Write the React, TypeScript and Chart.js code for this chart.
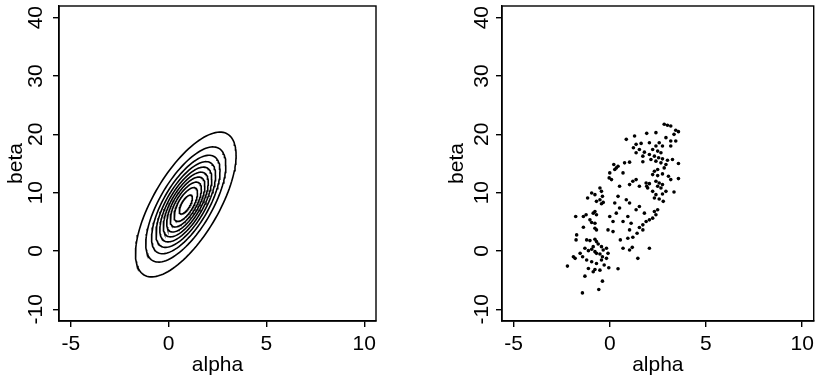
import React, { useEffect, useRef } from "react";
import { Chart, registerables } from "chart.js";
Chart.register(...registerables);

// ---- axes ----
const xTicks = [-5, 0, 5, 10];
const yTicks = [-10, 0, 10, 20, 30, 40];
const xRange = [-5.6, 10.6];
const yRange = [-12, 42];

// ---- left panel: normal approximation contours ----
const modeAlphaBeta = [0.88, 7.97];
const sdAlphaBeta = [1.05, 5.07];
const corrAlphaBeta = 0.68;
const contourLevels = [0.05, 0.15, 0.25, 0.35, 0.45, 0.55, 0.65, 0.75, 0.85, 0.95];

// ---- right panel: posterior draws ----
const drawAlpha = [
  2.83, 3.0, 3.17, 3.43, 3.57, 3.34, 2.4, 1.92, 1.29, 0.86, 2.92, 3.17, 3.43, 1.37, 1.63, 2.06, 2.4, 2.74, 2.57, 1.23,
  1.54, 1.8, 2.23, 2.49, 2.66, 3.17, 1.37, 1.72, 2.06, 2.32, 2.54, 2.74, 3.0, 3.26, 2.14, 2.4, 2.66, 2.92, 3.57, 1.72,
  2.49, 2.32, 2.83, 2.23, 2.49, 2.74, 3.05, 3.57, 2.4, 2.57, 2.74, 2.49, 2.66, 2.92, 2.23, 2.4, 2.74, 2.06, 1.92, 2.32,
  2.57, 3.34, 3.17, 2.78,
  0.21, 0.43, 0.77, 1.03, 0.0, 0.26, -0.03, 0.09, -0.51, -0.43, -0.38, -0.51, -0.94, -0.77, -0.34, -0.43, -0.69, -1.15,
  -1.37, -1.23, -0.86, -0.77, -0.69, -1.03, -0.94, -0.77, -1.77, -1.37, -0.77, -0.69, -1.72, -1.75, -1.2, -1.03, -0.77,
  -0.69, -0.6, -0.43, -0.34, -0.86, -0.94, -0.77, -0.69, -0.51, -0.38, -1.29, -1.11, -0.17, -0.09, -0.17, -1.54, -1.41,
  -1.89, -1.8, -1.2, -0.94, -0.69, -0.43, -0.29, -1.11, -0.77, -0.51, -1.29, -0.86, -0.05, 0.43, -2.2, -0.38, -0.57, -1.42,
  0.55, 0.69, 1.03, 1.17, 1.46, 2.06, 0.94, 1.2, 1.42, 1.54, 1.72, 1.89, 2.06, 2.23, 2.4, 2.32, 2.49, 1.72, 1.03, 1.11,
  0.69, 0.94, 0.34, 0.51, 0.26, 0.43, 1.03, 1.2, 1.37, 1.54, 1.89, 1.97, 0.86, 1.03, 1.37, 1.54, 1.8, 0.0, 0.17, -0.09,
  0.17, 0.34, 0.69, 0.51,
];
const drawBeta = [
  21.72, 21.55, 21.44, 20.69, 20.46, 20.0, 20.29, 20.17, 19.71, 19.14, 19.43, 18.85, 18.85, 18.28, 18.45, 18.56, 17.99,
  17.99, 18.56, 17.7, 17.41, 16.95, 17.41, 17.13, 16.84, 17.99, 16.84, 16.26, 16.55, 16.26, 15.98, 15.8, 15.57, 15.69,
  15.69, 15.4, 15.11, 14.83, 15.0, 15.29, 13.97, 13.68, 14.25, 13.1, 12.93, 13.22, 12.82, 12.41, 11.95, 11.67, 11.38,
  11.09, 10.8, 10.23, 10.23, 9.66, 9.77, 11.55, 11.09, 9.08, 8.91, 10.11, 12.24, 8.51,
  14.83, 14.54, 15.11, 15.23, 13.39, 13.97, 12.53, 12.24, 10.8, 10.23, 9.37, 8.79, 9.94, 9.66, 8.33, 8.1, 8.51, 9.08,
  5.92, 6.21, 6.49, 6.78, 6.21, 5.34, 4.89, 4.77, 5.92, 4.08, 3.91, 3.62, 2.76, 1.9, 1.9, 1.78, 2.01, 1.61, 1.21, 0.75,
  0.17, 0.75, 0.29, -0.11, -0.4, -0.52, -0.98, 0.46, 0.06, 0.46, -0.4, -1.26, -0.4, -0.98, -0.98, -1.26, -1.55, -1.84,
  -2.13, -1.55, -2.41, -2.99, -3.16, -3.28, -4.31, -3.56, -2.87, -3.05, -2.59, -5.17, -6.61, -7.18,
  1.9, 0.46, 0.17, 0.63, -1.26, 0.46, 2.18, 2.36, 3.05, 4.02, 4.48, 5.06, 5.34, 5.63, 6.21, 6.78, 7.07, 3.62, 3.62, 4.77,
  5.06, 5.92, 6.49, 7.36, 8.22, 9.37, 11.38, 11.95, 12.24, 11.09, 11.67, 10.8, 8.79, 8.22, 7.07, 7.64, 6.49, 5.92, 5.06,
  3.62, 3.33, 14.25, 13.39, 11.09,
];

const FONT = "'Liberation Sans', Arial, Helvetica, sans-serif";
const FSIZE = 21;

function contourPath(level: number) {
  const d = Math.sqrt(-2 * Math.log(level));
  const pts: { x: number; y: number }[] = [];
  const n = 120;
  for (let i = 0; i <= n; i++) {
    const t = (2 * Math.PI * i) / n;
    const c = Math.cos(t);
    const s = Math.sin(t);
    pts.push({
      x: modeAlphaBeta[0] + d * sdAlphaBeta[0] * c,
      y: modeAlphaBeta[1] + d * sdAlphaBeta[1] * (corrAlphaBeta * c + Math.sqrt(1 - corrAlphaBeta ** 2) * s),
    });
  }
  return pts;
}

type Layout = { axisW: number; padRight: number; tickOff: number; titlePad: number };

function makeFramePlugin(lay: Layout) {
  return {
    id: "frame",
    afterDraw(chart: any) {
      const { ctx, chartArea: a, scales } = chart;
      ctx.save();
      ctx.strokeStyle = "#000";
      ctx.lineWidth = 1.4;
      ctx.strokeRect(a.left, a.top, a.right - a.left, a.bottom - a.top);
      ctx.fillStyle = "#000";
      ctx.font = `${FSIZE}px ${FONT}`;
      ctx.textAlign = "center";
      ctx.textBaseline = "middle";
      for (const t of scales.y.ticks) {
        const y = scales.y.getPixelForValue(t.value);
        ctx.save();
        ctx.translate(a.left - lay.tickOff, y);
        ctx.rotate(-Math.PI / 2);
        ctx.fillText(String(t.value), 0, 0);
        ctx.restore();
      }
      ctx.restore();
    },
  };
}

function makeOptions(lay: Layout): any {
  const gridOpts = {
    drawOnChartArea: false,
    drawTicks: true,
    tickLength: 6,
    color: "#000",
    lineWidth: 1.4,
  };
  return {
    responsive: false,
    animation: false,
    events: [],
    layout: { padding: { top: 6, right: lay.padRight, left: 0, bottom: 0 } },
    plugins: { legend: { display: false }, tooltip: { enabled: false } },
    scales: {
      x: {
        type: "linear",
        min: xRange[0],
        max: xRange[1],
        afterBuildTicks: (s: any) => {
          s.ticks = xTicks.map((v) => ({ value: v }));
        },
        afterFit: (s: any) => {
          s.height = 57;
        },
        grid: gridOpts,
        border: { display: true, color: "#000", width: 1.4 },
        ticks: { color: "#000", font: { family: FONT, size: FSIZE }, padding: 5, maxRotation: 0, autoSkip: false },
        title: { display: true, text: "alpha", color: "#000", font: { family: FONT, size: FSIZE }, padding: { top: 0, bottom: 0 } },
      },
      y: {
        type: "linear",
        min: yRange[0],
        max: yRange[1],
        afterBuildTicks: (s: any) => {
          s.ticks = yTicks.map((v) => ({ value: v }));
        },
        afterFit: (s: any) => {
          s.width = lay.axisW;
        },
        grid: gridOpts,
        border: { display: true, color: "#000", width: 1.4 },
        ticks: { display: false, autoSkip: false },
        title: { display: true, text: "beta", color: "#000", font: { family: FONT, size: FSIZE }, padding: { top: lay.titlePad, bottom: 0 } },
      },
    },
  };
}

const leftLayout: Layout = { axisW: 59, padRight: 34, tickOff: 23, titlePad: 4 };
const rightLayout: Layout = { axisW: 92, padRight: 3, tickOff: 20, titlePad: 35 };

export default function App() {
  const leftRef = useRef<HTMLCanvasElement>(null);
  const rightRef = useRef<HTMLCanvasElement>(null);

  useEffect(() => {
    const left = new Chart(leftRef.current!, {
      type: "scatter",
      data: {
        datasets: contourLevels.map((lv) => ({
          data: contourPath(lv),
          showLine: true,
          pointRadius: 0,
          borderColor: "#000",
          borderWidth: 1.6,
          fill: false,
          tension: 0,
        })),
      },
      options: makeOptions(leftLayout),
      plugins: [makeFramePlugin(leftLayout)],
    });
    const right = new Chart(rightRef.current!, {
      type: "scatter",
      data: {
        datasets: [
          {
            data: drawAlpha.map((a, i) => ({ x: a, y: drawBeta[i] })),
            pointRadius: 1.8,
            pointBackgroundColor: "#000",
            pointBorderWidth: 0,
            showLine: false,
          },
        ],
      },
      options: makeOptions(rightLayout),
      plugins: [makeFramePlugin(rightLayout)],
    });
    return () => {
      left.destroy();
      right.destroy();
    };
  }, []);

  return (
    <div style={{ position: "absolute", left: 0, top: 0, width: 819, height: 378, background: "#fff" }}>
      <canvas ref={leftRef} width={410} height={378} style={{ position: "absolute", left: 0, top: 0 }} />
      <canvas ref={rightRef} width={409} height={378} style={{ position: "absolute", left: 410, top: 0 }} />
    </div>
  );
}
